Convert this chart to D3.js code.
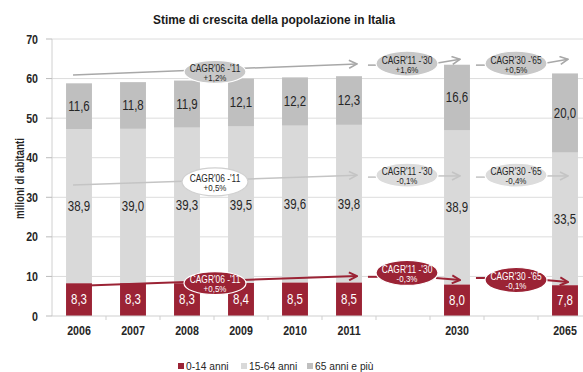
<!DOCTYPE html>
<html>
<head>
<meta charset="utf-8">
<script src="https://cdn.jsdelivr.net/npm/d3@7/dist/d3.min.js"></script>
<style>
  body { margin: 0; background: #fff; }
  svg text { font-family: "Liberation Sans", Arial, sans-serif; }
</style>
</head>
<body>
<svg id="chart" width="583" height="372"></svg>
<script>
// Popolazione italiana per fascia d'età (milioni di abitanti)
const years = ["2006", "2007", "2008", "2009", "2010", "2011", "2030", "2065"];
const age0to14 = [8.3, 8.3, 8.3, 8.4, 8.5, 8.5, 8.0, 7.8];
const age15to64 = [38.9, 39.0, 39.3, 39.5, 39.6, 39.8, 38.9, 33.5];
const age65plus = [11.6, 11.8, 11.9, 12.1, 12.2, 12.3, 16.6, 20.0];
const seriesNames = ["0-14 anni", "15-64 anni", "65 anni e più"];
const yTicks = [0, 10, 20, 30, 40, 50, 60, 70];

// Tassi di crescita annui composti per periodo
const cagrPeriods = ["CAGR'06 -'11", "CAGR'11 -'30", "CAGR'30 -'65"];
const cagr65plus = ["+1,2%", "+1,6%", "+0,5%"];
const cagr15to64 = ["+0,5%", "-0,1%", "-0,4%"];
const cagr0to14 = ["+0,5%", "-0,3%", "-0,1%"];

const W = 583, H = 372;
const colors = ["#9b2335", "#d9d9d9", "#bfbfbf"];
const textDark = "#262626";
const NARROW = 0.82; // horizontal squeeze for a narrow face

const svg = d3.select("#chart");

// Text helper: positioned by transform so it can be squeezed horizontally
function label(parent, px, py, str, o = {}) {
  const sx = o.sx ?? NARROW;
  return parent.append("text")
    .attr("transform", `translate(${px},${py}) ${o.rotate ? `rotate(${o.rotate})` : ""} scale(${sx},1)`)
    .attr("text-anchor", o.anchor ?? "middle")
    .attr("dy", o.dy ?? "0.35em")
    .attr("font-size", o.size ?? 12)
    .attr("font-weight", o.bold ? "bold" : "normal")
    .attr("fill", o.fill ?? textDark)
    .text(str);
}

// Category slots: empty slots separate the projected years
const slotDomain = ["2006", "2007", "2008", "2009", "2010", "2011", "gapA", "2030", "gapB", "2065"];
const x = d3.scaleBand().domain(slotDomain).range([52, 592]).paddingInner(0.52).paddingOuter(0.26);
const y = d3.scaleLinear().domain([0, 70]).range([316, 39]);
const bw = x.bandwidth();
const cx = k => x(k) + bw / 2;

// Title
svg.append("text").attr("x", 274).attr("y", 24).attr("text-anchor", "middle")
  .attr("font-size", 13.5).attr("font-weight", "bold").attr("fill", "#1a1a1a")
  .attr("textLength", 242).attr("lengthAdjust", "spacingAndGlyphs")
  .text("Stime di crescita della popolazione in Italia");

// Gridlines and y axis
const grid = svg.append("g");
grid.selectAll("line.g").data(yTicks.filter(t => t > 0)).join("line")
  .attr("x1", 52).attr("x2", W).attr("y1", d => y(d)).attr("y2", d => y(d))
  .attr("stroke", "#dcdcdc").attr("stroke-width", 1);
grid.append("line").attr("x1", 52).attr("x2", 52).attr("y1", y(70)).attr("y2", y(0))
  .attr("stroke", "#d0d0d0");
grid.selectAll("line.t").data(yTicks).join("line")
  .attr("x1", 46).attr("x2", 52).attr("y1", d => y(d)).attr("y2", d => y(d))
  .attr("stroke", "#bbbbbb");
yTicks.forEach(t => label(grid, 38, y(t), t, { anchor: "end", size: 13, bold: true }));

label(svg, 20, 178.5, "milioni di abitanti", { rotate: -90, size: 12, bold: true });

// Stacked bars
const rows = years.map((yr, i) => ({ year: yr, a: age0to14[i], b: age15to64[i], c: age65plus[i] }));
const stack = d3.stack().keys(["a", "b", "c"])(rows);
const bars = svg.append("g");
stack.forEach((layer, li) => {
  bars.selectAll(null).data(layer).join("rect")
    .attr("x", d => x(d.data.year)).attr("width", bw)
    .attr("y", d => y(d[1])).attr("height", d => y(d[0]) - y(d[1]))
    .attr("fill", colors[li]);
  layer.forEach(d => label(bars, cx(d.data.year), y((d[0] + d[1]) / 2),
    (d[1] - d[0]).toFixed(1).replace(".", ","),
    { size: 14, fill: li === 0 ? "#fff" : textDark }));
});

// x axis
svg.append("line").attr("x1", 52).attr("x2", W).attr("y1", y(0)).attr("y2", y(0)).attr("stroke", "#cfcfcf");
svg.append("g").selectAll("line").data(slotDomain.slice(1)).join("line")
  .attr("x1", d => x(d) - x.step() * 0.26).attr("x2", d => x(d) - x.step() * 0.26)
  .attr("y1", y(0)).attr("y2", y(0) + 4).attr("stroke", "#cfcfcf");
const xl = svg.append("g");
years.forEach(d => label(xl, cx(d), 330.5, d, { size: 13, bold: true }));

// Arrow markers
const defs = svg.append("defs");
function marker(id, color, sw) {
  defs.append("marker").attr("id", id).attr("viewBox", "0 0 10 10")
    .attr("refX", 9).attr("refY", 5).attr("markerWidth", 10).attr("markerHeight", 10)
    .attr("markerUnits", "userSpaceOnUse").attr("orient", "auto")
    .append("path").attr("d", "M1,1 L9,5 L1,9").attr("fill", "none")
    .attr("stroke", color).attr("stroke-width", sw);
}
marker("arGrayDark", "#a8a8a8", 1.6);
marker("arGrayLight", "#c4c4c4", 1.6);
marker("arRed", "#9b2335", 2);

// CAGR annotation rows; levels are in milioni on the y scale
const cagrRows = [
  { labels: cagr65plus, line: "#a8a8a8", mk: "arGrayDark", sw: 1.5,
    fills: ["#c8c8c8", "#c8c8c8", "#c8c8c8"], strokes: ["#fff", "#fff", "#fff"], txt: textDark,
    main: [60.9, 63.7], e: [61.7, 63.8, 63.8], dash: [63.4, 63.4], arr: [[63.9, 64.9], [63.9, 64.9]] },
  { labels: cagr15to64, line: "#c4c4c4", mk: "arGrayLight", sw: 1.5,
    fills: ["#fff", "#dcdcdc", "#dcdcdc"], strokes: ["#d0d0d0", "#fff", "#fff"], txt: textDark,
    main: [33.1, 35.6], e: [33.9, 35.6, 35.6], dash: [35.1, 35.1], arr: [[35.4, 35.4], [35.4, 35.4]] },
  { labels: cagr0to14, line: "#9b2335", mk: "arRed", sw: 2,
    fills: ["#9b2335", "#9b2335", "#9b2335"], strokes: ["#fff", "#fff", "#fff"], txt: "#fff",
    main: [7.6, 10.1], e: [8.3, 10.9, 9.1], dash: [9.9, 9.6], arr: [[9.6, 9.1], [9.1, 8.6]] }
];

const ann = svg.append("g");
const rx = 31;
cagrRows.forEach((row, ri) => {
  const eX = [(cx("2008") + cx("2009")) / 2 + 1, cx("gapA") + 4, cx("gapB") + 5];
  const ry = ri === 1 ? [14, 12, 12] : [11.5, 12.5, 12.5];
  const rxs = ri === 1 ? [33, rx, rx] : [rx, rx, rx];
  // long arrow 2006 -> 2011
  ann.append("line").attr("x1", x("2006") + 7).attr("y1", y(row.main[0]))
    .attr("x2", cx("2011") + 8).attr("y2", y(row.main[1]))
    .attr("stroke", row.line).attr("stroke-width", row.sw).attr("marker-end", `url(#${row.mk})`);
  // short dashes and arrows for the projected periods
  const segStarts = [x("2011") + bw + 6, x("2030") + bw + 6];
  const segEnds = [cx("2030") + 3, cx("2065") + 3];
  [0, 1].forEach(s => {
    const e = s + 1;
    ann.append("line").attr("x1", segStarts[s]).attr("x2", eX[e] - rxs[e] + 2)
      .attr("y1", y(row.dash[s])).attr("y2", y(row.dash[s]))
      .attr("stroke", row.line).attr("stroke-width", row.sw);
    ann.append("line").attr("x1", eX[e] + rxs[e] - 2).attr("y1", y(row.arr[s][0]))
      .attr("x2", segEnds[s]).attr("y2", y(row.arr[s][1]))
      .attr("stroke", row.line).attr("stroke-width", row.sw).attr("marker-end", `url(#${row.mk})`);
  });
  // ellipses with labels
  row.labels.forEach((lab, k) => {
    const g = ann.append("g").attr("transform", `translate(${eX[k]},${y(row.e[k])})`);
    g.append("ellipse").attr("rx", rxs[k]).attr("ry", ry[k])
      .attr("fill", row.fills[k]).attr("stroke", row.strokes[k]).attr("stroke-width", 1.2);
    label(g, 0, -3.5, cagrPeriods[k], { size: 10, sx: 0.84, fill: row.txt });
    label(g, 0, 6, lab, { size: 9.5, sx: 0.84, fill: row.txt });
  });
});

// Legend
const legX = [178, 241, 307];
const leg = svg.append("g");
seriesNames.forEach((n, i) => {
  leg.append("rect").attr("x", legX[i]).attr("y", 363).attr("width", 6).attr("height", 6).attr("fill", colors[i]);
  label(leg, legX[i] + 8, 366, n, { anchor: "start", size: 11, sx: 0.93 });
});
</script>
</body>
</html>
